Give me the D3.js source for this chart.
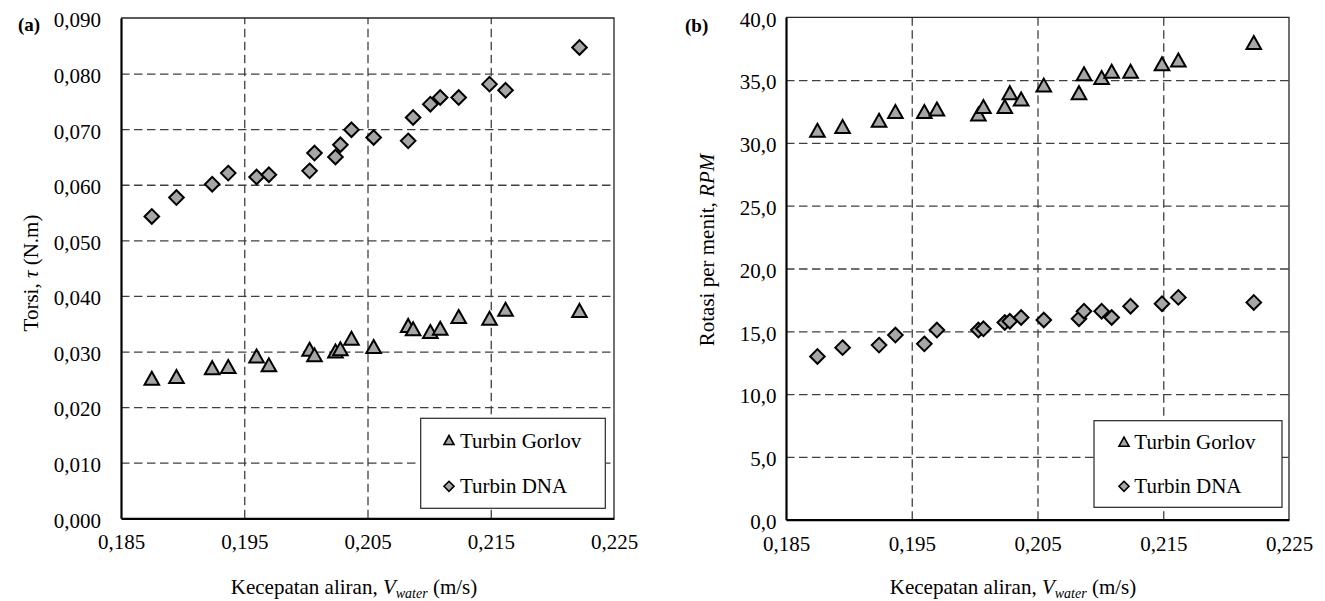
<!DOCTYPE html>
<html>
<head>
<meta charset="utf-8">
<script src="https://cdn.jsdelivr.net/npm/d3@7"></script>
<style>
  html, body { margin: 0; padding: 0; background: #fff; }
  svg { display: block; font-family: "Liberation Serif", "Times New Roman", serif; }
</style>
</head>
<body>
<svg id="chart" width="1325" height="601"></svg>
<script>
// Flow velocity (m/s) shared by both panels
const velocity = [0.1875, 0.1895, 0.1924, 0.1937, 0.1960, 0.1970, 0.2003, 0.2007, 0.2024, 0.2028,
                  0.2037, 0.2055, 0.2083, 0.2087, 0.2101, 0.2109, 0.2124, 0.2149, 0.2162, 0.2222];

// Panel (a): torque, N.m
const torqueGorlov = [0.0252, 0.0255, 0.0271, 0.0273, 0.0292, 0.0276, 0.0304, 0.0294, 0.0301, 0.0305,
                      0.0324, 0.0309, 0.0347, 0.0341, 0.0336, 0.0342, 0.0363, 0.0360, 0.0376, 0.0374];
const torqueDNA = [0.0543, 0.0577, 0.0601, 0.0621, 0.0614, 0.0618, 0.0625, 0.0657, 0.0650, 0.0672,
                   0.0699, 0.0685, 0.0679, 0.0721, 0.0745, 0.0757, 0.0757, 0.0781, 0.0770, 0.0847];

// Panel (b): rotations per minute
const rpmGorlov = [31.0, 31.3, 31.8, 32.5, 32.5, 32.7, 32.3, 32.9, 32.9, 34.0,
                   33.5, 34.6, 34.0, 35.5, 35.2, 35.7, 35.7, 36.3, 36.6, 38.0];
const rpmDNA = [13.0, 13.7, 13.9, 14.7, 14.0, 15.1, 15.1, 15.2, 15.7, 15.8,
                16.1, 15.9, 16.0, 16.6, 16.6, 16.1, 17.0, 17.2, 17.7, 17.3];

const seriesNames = ["Turbin Gorlov", "Turbin DNA"];
const xTicks = [0.185, 0.195, 0.205, 0.215, 0.225];
const torqueTicks = [0, 0.01, 0.02, 0.03, 0.04, 0.05, 0.06, 0.07, 0.08, 0.09];
const rpmTicks = [0, 5, 10, 15, 20, 25, 30, 35, 40];

const svg = d3.select("#chart");
const FONT = 21;
const FILL = "#a6a6a6";
const GRID = "#404040";

const comma = f => v => d3.format(f)(v).replace(".", ",");

// Marker shapes (centered on their bounding box)
function trianglePath(hw, h) {
  return `M0,${-h / 2}L${hw},${h / 2}L${-hw},${h / 2}Z`;
}
function diamondPath(r) {
  return `M0,${-r}L${r},0L0,${r}L${-r},0Z`;
}

const panels = [
  {
    tag: "(a)", tagX: 18, tagY: 31,
    box: { l: 121, t: 18, r: 614, b: 518.3 },
    yDomain: [0, 0.09], yTicks: torqueTicks, yFmt: comma(".3f"), yLabelGap: 20,
    series: [torqueGorlov, torqueDNA],
    yTitle: { x: 38, y: 273, parts: [["Torsi, ", "normal"], ["τ", "italic"], [" (N.m)", "normal"]] },
    xTitle: { x: 354, y: 594 },
    legend: { l: 420.7, t: 418.3, r: 605.3, b: 508.3, mx: 449, tx: 460, rows: [[440, 447.7], [486.3, 492.7]] }
  },
  {
    tag: "(b)", tagX: 685, tagY: 32,
    box: { l: 786, t: 17.3, r: 1289, b: 519.7 },
    yDomain: [0, 40], yTicks: rpmTicks, yFmt: comma(".1f"), yLabelGap: 9.5,
    series: [rpmGorlov, rpmDNA],
    yTitle: { x: 714, y: 250, parts: [["Rotasi per menit, ", "normal"], ["RPM", "italic"]] },
    xTitle: { x: 1013, y: 594 },
    legend: { l: 1094, t: 420.7, r: 1282, b: 507.3, mx: 1124, tx: 1134.3, rows: [[441.7, 449], [486.3, 492.7]] }
  }
];

// d3 axes set their own font on the group; hand it back to the page font
function plainAxis(sel) {
  sel.attr("font-family", null).attr("font-size", null);
}

panels.forEach(p => {
  const B = p.box;
  const x = d3.scaleLinear().domain([0.185, 0.225]).range([B.l, B.r]);
  const y = d3.scaleLinear().domain(p.yDomain).range([B.b, B.t]);
  const g = svg.append("g");

  // Horizontal grid (inner ticks only)
  g.append("g")
    .attr("transform", `translate(${B.l},0)`)
    .call(d3.axisLeft(y).tickValues(p.yTicks.slice(1, -1)).tickSize(-(B.r - B.l)).tickFormat(""))
    .call(s => s.select(".domain").remove())
    .selectAll("line")
    .attr("stroke", GRID).attr("stroke-width", 1.3).attr("stroke-dasharray", "8.5,4.5");

  // Vertical grid
  g.append("g")
    .attr("transform", `translate(0,${B.b})`)
    .call(d3.axisBottom(x).tickValues(xTicks.slice(1, -1)).tickSize(-(B.b - B.t)).tickFormat(""))
    .call(s => s.select(".domain").remove())
    .selectAll("line")
    .attr("stroke", GRID).attr("stroke-width", 1.3).attr("stroke-dasharray", "8.5,4.5");

  // Plot frame: thin top/right, heavy left/bottom axes
  g.append("path")
    .attr("d", `M${B.l},${B.t}H${B.r}V${B.b}`)
    .attr("fill", "none").attr("stroke", "#262626").attr("stroke-width", 1.3);

  // Y axis labels
  const yAxis = g.append("g")
    .attr("transform", `translate(${B.l},0)`)
    .call(d3.axisLeft(y).tickValues(p.yTicks).tickSize(0).tickPadding(p.yLabelGap).tickFormat(p.yFmt))
    .call(plainAxis);
  yAxis.select(".domain").attr("stroke", "#000").attr("stroke-width", 2.2);
  yAxis.selectAll("text")
    .attr("font-size", FONT).attr("fill", "#000")
    .attr("dy", "0.42em");

  // X axis labels
  const xAxis = g.append("g")
    .attr("transform", `translate(0,${B.b})`)
    .call(d3.axisBottom(x).tickValues(xTicks).tickSize(0).tickPadding(0).tickFormat(comma(".3f")))
    .call(plainAxis);
  xAxis.select(".domain").attr("stroke", "#000").attr("stroke-width", 2.2);
  xAxis.selectAll("text")
    .attr("font-size", FONT).attr("fill", "#000")
    .attr("dy", null).attr("y", 31);

  // Data markers
  const shapes = [trianglePath(7.3, 13), diamondPath(7.3)];
  p.series.forEach((vals, si) => {
    g.append("g").selectAll("path")
      .data(vals.map((v, i) => [velocity[i], v]))
      .join("path")
      .attr("d", shapes[si])
      .attr("transform", d => `translate(${x(d[0])},${y(d[1])})`)
      .attr("fill", FILL).attr("stroke", "#000").attr("stroke-width", 2)
      .attr("stroke-linejoin", "miter");
  });

  // Legend
  const L = p.legend;
  g.append("rect")
    .attr("x", L.l).attr("y", L.t).attr("width", L.r - L.l).attr("height", L.b - L.t)
    .attr("fill", "#fff").attr("stroke", "#262626").attr("stroke-width", 1.2);
  const legendShapes = [trianglePath(5, 9), diamondPath(5)];
  seriesNames.forEach((name, si) => {
    g.append("path")
      .attr("d", legendShapes[si])
      .attr("transform", `translate(${L.mx},${L.rows[si][0]})`)
      .attr("fill", FILL).attr("stroke", "#000").attr("stroke-width", 1.6);
    g.append("text")
      .attr("x", L.tx).attr("y", L.rows[si][1])
      .attr("font-size", FONT).text(name);
  });

  // Panel tag
  g.append("text")
    .attr("x", p.tagX).attr("y", p.tagY)
    .attr("font-size", 19).attr("font-weight", "bold").text(p.tag);

  // Y axis title
  const yt = g.append("text")
    .attr("transform", `translate(${p.yTitle.x},${p.yTitle.y}) rotate(-90)`)
    .attr("text-anchor", "middle").attr("font-size", FONT);
  p.yTitle.parts.forEach(([t, st]) => yt.append("tspan").attr("font-style", st).text(t));

  // X axis title
  const xt = g.append("text")
    .attr("x", p.xTitle.x).attr("y", p.xTitle.y)
    .attr("text-anchor", "middle").attr("font-size", FONT);
  xt.append("tspan").text("Kecepatan aliran, ");
  xt.append("tspan").attr("font-style", "italic").text("V");
  xt.append("tspan").attr("font-style", "italic").attr("font-size", 14).attr("dy", 4).text("water");
  xt.append("tspan").attr("dy", -4).text(" (m/s)");
});
</script>
</body>
</html>
